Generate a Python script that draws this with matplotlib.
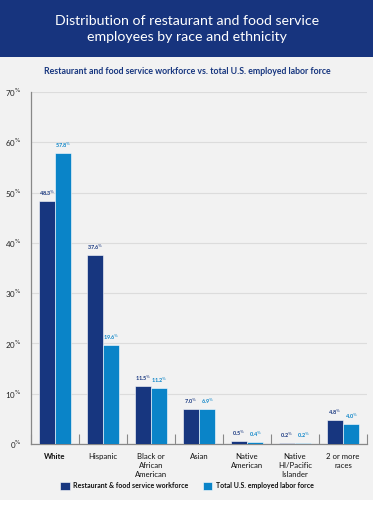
import matplotlib
matplotlib.use("Agg")
import matplotlib.pyplot as plt
import numpy as np
from matplotlib.patches import Rectangle

categories = ["White", "Hispanic", "Black or\nAfrican\nAmerican", "Asian", "Native\nAmerican", "Native\nHI/Pacific\nIslander", "2 or more\nraces"]
restaurant = [48.3, 37.6, 11.5, 7.0, 0.5, 0.2, 4.8]
total_us = [57.8, 19.6, 11.2, 6.9, 0.4, 0.2, 4.0]
yticks = [0, 10, 20, 30, 40, 50, 60, 70]
series_names = ["Restaurant & food service workforce", "Total U.S. employed labor force"]

DARK = "#17367f"
LIGHT = "#0a84c8"
BG = "#f2f2f2"
FONT = ["Lato", "DejaVu Sans"]
plt.rcParams['font.family'] = FONT

W, H = 375, 508
fig = plt.figure(figsize=(W/100, H/100), dpi=100)
fig.patch.set_facecolor("white")

# background panels
fig.add_artist(Rectangle((0, 1 - 500/H), 373/W, (500-57)/H, transform=fig.transFigure, facecolor=BG, edgecolor="none", zorder=0))
fig.add_artist(Rectangle((0, 1 - 57/H), 373/W, 57/H, transform=fig.transFigure, facecolor="#17347e", edgecolor="none", zorder=0))

fig.text(187/W, 1 - 29/H, "Distribution of restaurant and food service\nemployees by race and ethnicity", color="white",
         ha="center", va="center", fontsize=10.2, linespacing=1.4)
fig.text(187/W, 1 - 72/H, "Restaurant and food service workforce vs. total U.S. employed labor force", color=DARK,
         ha="center", va="center", fontsize=6.3, fontweight="bold")

left, right, top, bottom = 31, 367, 92, 444
ax = fig.add_axes([left/W, 1 - bottom/H, (right-left)/W, (bottom-top)/H])
ax.set_facecolor(BG)
ax.set_xlim(-0.5, len(categories) - 0.5)
ax.set_ylim(0, 70)

x = np.arange(len(categories))
bw = 0.34
b1 = ax.bar(x - bw/2, restaurant, bw, color=DARK, edgecolor="white", linewidth=0.4, zorder=3, label=series_names[0])
b2 = ax.bar(x + bw/2, total_us, bw, color=LIGHT, edgecolor="white", linewidth=0.4, zorder=3, label=series_names[1])

for xi, v in zip(x, restaurant):
    ax.text(xi - bw/2, v + 0.6, f"{v:.1f}$^{{\\%}}$", ha="center", va="bottom", fontsize=4.0, color=DARK, fontweight="bold")
for xi, v in zip(x, total_us):
    ax.text(xi + bw/2, v + 0.6, f"{v:.1f}$^{{\\%}}$", ha="center", va="bottom", fontsize=4.0, color=LIGHT, fontweight="bold")

ax.set_yticks(yticks)
ax.set_yticklabels([f"{t}$^{{\\%}}$" for t in yticks], fontsize=5.8, color="#222222")
ax.tick_params(axis="y", length=0, pad=7)
ax.grid(axis="y", color="#dcdcdc", linewidth=0.8, zorder=0)
ax.set_axisbelow(True)

ax.set_xticks(np.arange(len(categories) + 1) - 0.5, minor=False)
ax.set_xticklabels([])
ax.tick_params(axis="x", direction="in", length=7, color="#888888", width=0.8)
for i, c in enumerate(categories):
    ax.text(i, -1.8, c, ha="center", va="top", fontsize=5.6, color="#111111",
            fontweight="bold" if i == 0 else "normal", linespacing=1.35)

for s in ["top", "right"]:
    ax.spines[s].set_visible(False)
ax.spines["left"].set_color("#888888")
ax.spines["bottom"].set_color("#888888")
ax.spines["left"].set_linewidth(0.9)
ax.spines["bottom"].set_linewidth(0.9)

leg = fig.legend(handles=[b1, b2], loc="center", bbox_to_anchor=(187/W, 1 - 486/H), ncol=2, frameon=False,
                 fontsize=5.0, handlelength=1.4, handleheight=1.4, columnspacing=2.0, handletextpad=0.5)
for t in leg.get_texts():
    t.set_fontweight("bold")
    t.set_color("#111111")

fig.savefig("out.png", dpi=100, facecolor="white")
